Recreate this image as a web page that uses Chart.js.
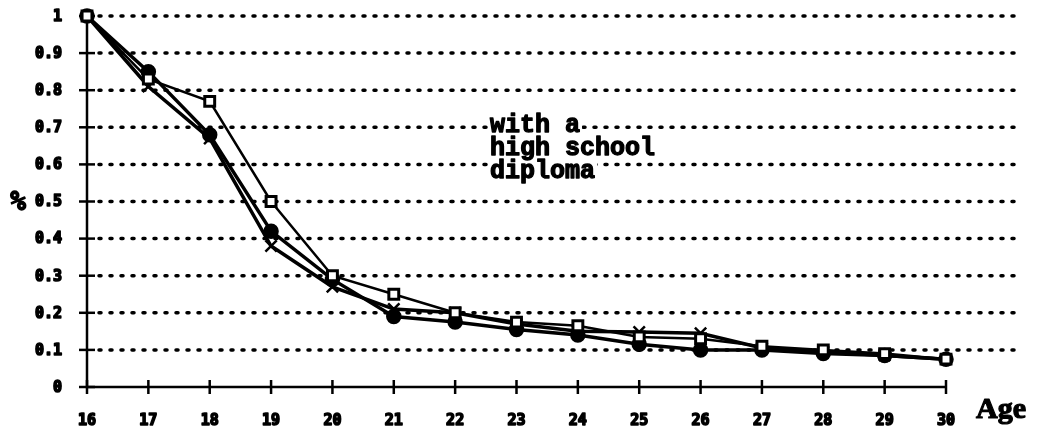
<!DOCTYPE html>
<html>
<head>
<meta charset="utf-8">
<style>
  html, body { margin: 0; padding: 0; background: #fff; }
  #wrap { width: 1051px; height: 433px; position: relative; }
</style>
<script src="https://cdn.jsdelivr.net/npm/chart.js@4"></script>
</head>
<body>
<div id="wrap"><canvas id="c" width="1051" height="433"></canvas></div>
<script>
const ages = [16, 17, 18, 19, 20, 21, 22, 23, 24, 25, 26, 27, 28, 29, 30];
const seriesSquare = [1, 0.83, 0.77, 0.50, 0.30, 0.25, 0.20, 0.175, 0.165, 0.135, 0.13, 0.11, 0.10, 0.09, 0.075];
const seriesCross  = [1, 0.81, 0.67, 0.38, 0.27, 0.21, 0.20, 0.17, 0.15, 0.148, 0.145, 0.105, 0.095, 0.085, 0.075];
const seriesFilled = [1, 0.85, 0.68, 0.42, 0.29, 0.19, 0.175, 0.155, 0.14, 0.115, 0.10, 0.10, 0.09, 0.085, 0.075];
const yTicks = [0, 0.1, 0.2, 0.3, 0.4, 0.5, 0.6, 0.7, 0.8, 0.9, 1];
const yTickLabels = ['0', '0.1', '0.2', '0.3', '0.4', '0.5', '0.6', '0.7', '0.8', '0.9', '1'];
const annotationLines = ['with a', 'high school', 'diploma'];
const yAxisLabel = '%';
const xAxisLabel = 'Age';

const tickFont = 'bold 15px "DejaVu Sans Mono"';

function heavyText(ctx, t, x, y, w) {
  ctx.lineWidth = w;
  ctx.lineJoin = 'round';
  ctx.strokeText(t, x, y);
  ctx.fillText(t, x, y);
}

const decor = {
  id: 'decor',
  beforeDatasetsDraw(chart) {
    const ctx = chart.ctx;
    const xs = chart.scales.x, ys = chart.scales.y;
    const left = chart.chartArea.left, right = chart.chartArea.right;
    ctx.save();
    // dotted grid lines
    ctx.strokeStyle = '#000';
    ctx.lineWidth = 3.5;
    ctx.lineCap = 'round';
    ctx.setLineDash([2, 9]);
    yTicks.forEach(v => {
      if (v === 0) return;
      const y = ys.getPixelForValue(v);
      ctx.beginPath();
      ctx.moveTo(left + 12, y);
      ctx.lineTo(right + 68, y);
      ctx.stroke();
    });
    ctx.setLineDash([]);
    ctx.lineCap = 'butt';
    // axes
    ctx.lineWidth = 2.5;
    ctx.beginPath();
    ctx.moveTo(left, ys.getPixelForValue(1));
    ctx.lineTo(left, ys.getPixelForValue(0));
    ctx.lineTo(right, ys.getPixelForValue(0));
    ctx.stroke();
    // y tick marks
    yTicks.forEach(v => {
      const y = ys.getPixelForValue(v);
      ctx.beginPath();
      ctx.moveTo(left - 8, y);
      ctx.lineTo(left + 8, y);
      ctx.stroke();
    });
    // x tick marks
    const y0 = ys.getPixelForValue(0);
    ages.forEach((a, i) => {
      const x = xs.getPixelForValue(i);
      ctx.beginPath();
      ctx.moveTo(x, y0 - 7);
      ctx.lineTo(x, y0 + 7);
      ctx.stroke();
    });
    // tick labels
    ctx.fillStyle = '#000';
    ctx.font = tickFont;
    ctx.textAlign = 'right';
    ctx.textBaseline = 'middle';
    yTicks.forEach((v, i) => {
      heavyText(ctx, yTickLabels[i], left - 25, ys.getPixelForValue(v) + 1, 1.6);
    });
    ctx.textAlign = 'center';
    ages.forEach((a, i) => {
      heavyText(ctx, String(a), xs.getPixelForValue(i), 421, 1.6);
    });
    // axis labels
    ctx.font = 'bold 26px "DejaVu Sans Mono"';
    ctx.textAlign = 'center';
    heavyText(ctx, yAxisLabel, 18, ys.getPixelForValue(0.5) + 2, 1.5);
    ctx.font = 'bold 30px "Liberation Serif"';
    ctx.textAlign = 'left';
    heavyText(ctx, xAxisLabel, 976, 410, 1.2);
    // annotation
    ctx.font = 'bold 25px "Liberation Mono"';
    ctx.textAlign = 'left';
    ctx.textBaseline = 'alphabetic';
    const baseX = 490, baseY = 132, lh = 23;
    annotationLines.forEach((t, i) => {
      const w = ctx.measureText(t).width;
      ctx.fillStyle = '#fff';
      ctx.fillRect(baseX - 2, baseY + i * lh - 19, w + 4, 25);
    });
    ctx.fillStyle = '#000';
    annotationLines.forEach((t, i) => {
      heavyText(ctx, t, baseX, baseY + i * lh, 1.3);
    });
    ctx.restore();
  }
};

new Chart(document.getElementById('c'), {
  type: 'line',
  data: {
    labels: ages.map(String),
    datasets: [
      {
        label: 'square',
        data: seriesSquare,
        borderColor: '#000',
        borderWidth: 2.5,
        pointStyle: 'rect',
        pointRadius: 7,
        pointBorderWidth: 3,
        pointBackgroundColor: '#fff',
        pointBorderColor: '#000',
        tension: 0
      },
      {
        label: 'cross',
        data: seriesCross,
        borderColor: '#000',
        borderWidth: 3.5,
        pointStyle: 'crossRot',
        pointRadius: 8,
        pointBorderWidth: 2.5,
        pointBorderColor: '#000',
        tension: 0
      },
      {
        label: 'filled',
        data: seriesFilled,
        borderColor: '#000',
        borderWidth: 3.5,
        pointStyle: 'circle',
        pointRadius: 6,
        pointBackgroundColor: '#000',
        pointBorderColor: '#000',
        tension: 0
      }
    ]
  },
  options: {
    responsive: false,
    animation: false,
    events: [],
    clip: false,
    layout: { padding: { left: 0, right: 105, top: 16, bottom: 0 } },
    plugins: { legend: { display: false }, tooltip: { enabled: false } },
    scales: {
      x: {
        type: 'category',
        offset: false,
        grid: { display: false },
        border: { display: false },
        ticks: { display: false },
        afterFit(s) { s.height = 46; }
      },
      y: {
        min: 0, max: 1,
        grid: { display: false },
        border: { display: false },
        ticks: { display: false, stepSize: 0.1 },
        afterFit(s) { s.width = 87; }
      }
    }
  },
  plugins: [decor]
});
</script>
</body>
</html>
